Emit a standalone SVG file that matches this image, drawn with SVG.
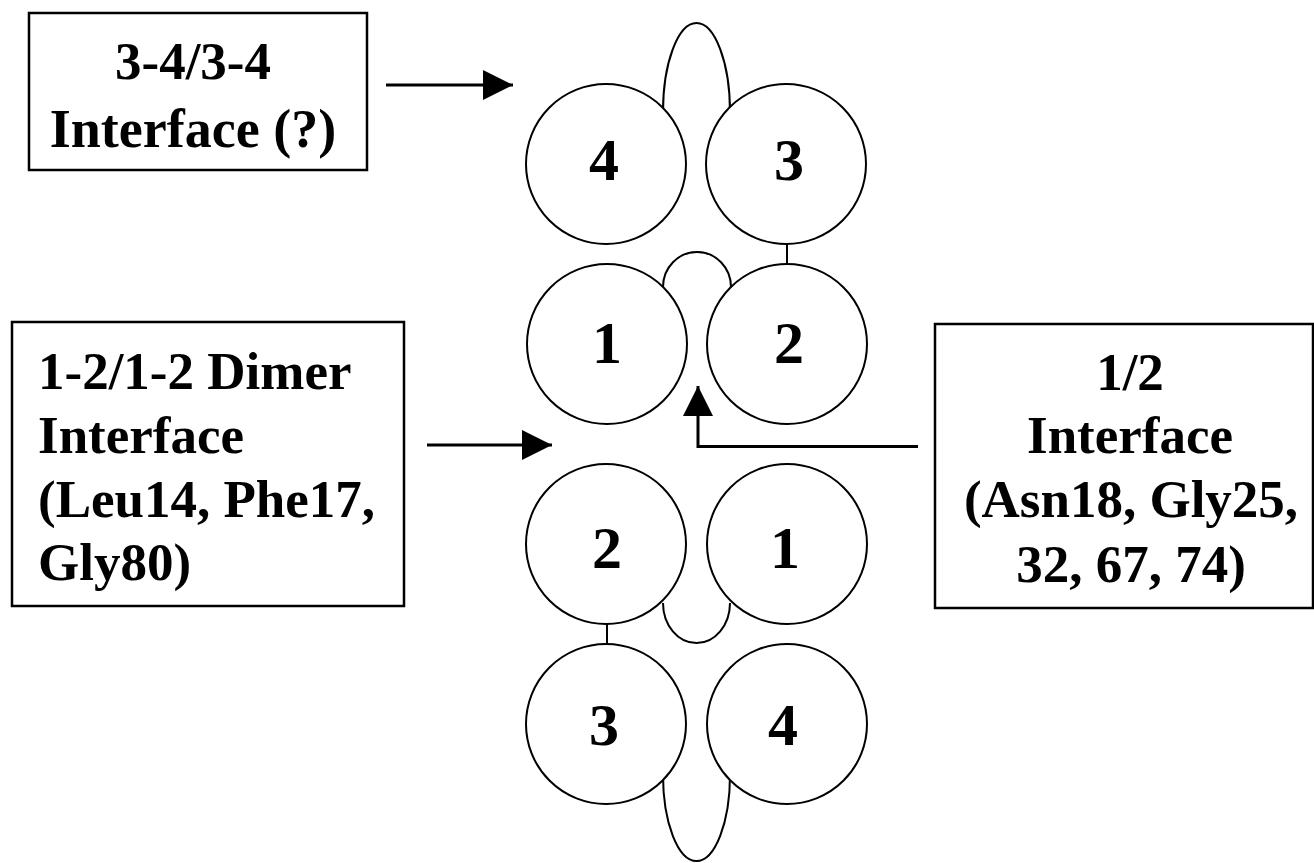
<svg xmlns="http://www.w3.org/2000/svg" width="1314" height="863" viewBox="0 0 1314 863">
  <style>
    .bg { fill: #ffffff; }
    .sub { fill: #ffffff; stroke: #000000; stroke-width: 2; }
    .lobe { fill: #ffffff; stroke: #000000; stroke-width: 2; }
    .tie { stroke: #000000; stroke-width: 2; }
    .box { fill: #ffffff; stroke: #000000; stroke-width: 2.5; }
    .num { font-family: "Liberation Serif", "Times New Roman", serif; font-weight: bold; font-size: 60px; fill: #000000; text-anchor: middle; }
    .lbl { font-family: "Liberation Serif", "Times New Roman", serif; font-weight: bold; font-size: 53px; fill: #000000; }
    .arrow { fill: none; stroke: #000000; stroke-width: 3; }
  </style>
  <defs>
    <marker id="headBig" viewBox="0 0 30 30" refX="30" refY="15" markerWidth="30" markerHeight="30" markerUnits="userSpaceOnUse" orient="auto">
      <path d="M0,0 L30,15 L0,30 Z" fill="#000000"/>
    </marker>
  </defs>

  <rect class="bg" x="0" y="0" width="1314" height="863"/>

  <!-- loops between the subunit pairs, drawn first so the circles cover their ends -->
  <g id="loops">
    <path class="lobe" d="M663,112 A33.5,89 0 0 1 730,112"/>
    <path class="lobe" d="M663,287 A34,35 0 0 1 731,287"/>
    <path class="lobe" d="M663,603 A33.5,40 0 0 0 730,603"/>
    <path class="lobe" d="M663,775 A33.5,86 0 0 0 730,775"/>
  </g>

  <!-- short links between stacked subunits -->
  <g id="links">
    <line class="tie" x1="787" y1="242" x2="787" y2="266"/>
    <line class="tie" x1="607" y1="622" x2="607" y2="646"/>
  </g>

  <!-- upper tetramer half -->
  <g id="sub-4-top">
    <circle class="sub" cx="606" cy="164" r="80"/>
    <text class="num" x="604" y="180">4</text>
  </g>
  <g id="sub-3-top">
    <circle class="sub" cx="786" cy="164" r="80"/>
    <text class="num" x="789" y="180">3</text>
  </g>
  <g id="sub-1-top">
    <circle class="sub" cx="607" cy="344" r="80"/>
    <text class="num" x="607" y="363">1</text>
  </g>
  <g id="sub-2-top">
    <circle class="sub" cx="787" cy="344" r="80"/>
    <text class="num" x="789" y="363">2</text>
  </g>

  <!-- lower tetramer half -->
  <g id="sub-2-bottom">
    <circle class="sub" cx="606" cy="544" r="80"/>
    <text class="num" x="607" y="568">2</text>
  </g>
  <g id="sub-1-bottom">
    <circle class="sub" cx="787" cy="544" r="80"/>
    <text class="num" x="785" y="568">1</text>
  </g>
  <g id="sub-3-bottom">
    <circle class="sub" cx="606" cy="724" r="80"/>
    <text class="num" x="604" y="745">3</text>
  </g>
  <g id="sub-4-bottom">
    <circle class="sub" cx="787" cy="724" r="80"/>
    <text class="num" x="783" y="745">4</text>
  </g>

  <!-- label boxes -->
  <g id="box-34">
    <rect class="box" x="29" y="13" width="338" height="157"/>
    <text class="lbl" x="193" y="79" text-anchor="middle">3-4/3-4</text>
    <text class="lbl" x="193" y="147" text-anchor="middle" style="font-size:54px">Interface (?)</text>
  </g>
  <g id="box-dimer">
    <rect class="box" x="12" y="322" width="392" height="284"/>
    <text class="lbl" x="38" y="389">1-2/1-2 Dimer</text>
    <text class="lbl" x="38" y="453">Interface</text>
    <text class="lbl" x="38" y="517">(Leu14, Phe17,</text>
    <text class="lbl" x="38" y="580">Gly80)</text>
  </g>
  <g id="box-12">
    <rect class="box" x="935" y="324" width="378" height="284"/>
    <text class="lbl" x="1130" y="390" text-anchor="middle">1/2</text>
    <text class="lbl" x="1130" y="453" text-anchor="middle">Interface</text>
    <text class="lbl" x="1131" y="517" text-anchor="middle">(Asn18, Gly25,</text>
    <text class="lbl" x="1131" y="582" text-anchor="middle">32, 67, 74)</text>
  </g>

  <!-- connectors -->
  <g id="connectors">
    <line class="arrow" x1="386" y1="85" x2="513" y2="85" marker-end="url(#headBig)"/>
    <line class="arrow" x1="427" y1="445" x2="552" y2="445" marker-end="url(#headBig)"/>
    <polyline class="arrow" points="918,446.5 698,446.5 698,386" marker-end="url(#headBig)"/>
  </g>
</svg>
